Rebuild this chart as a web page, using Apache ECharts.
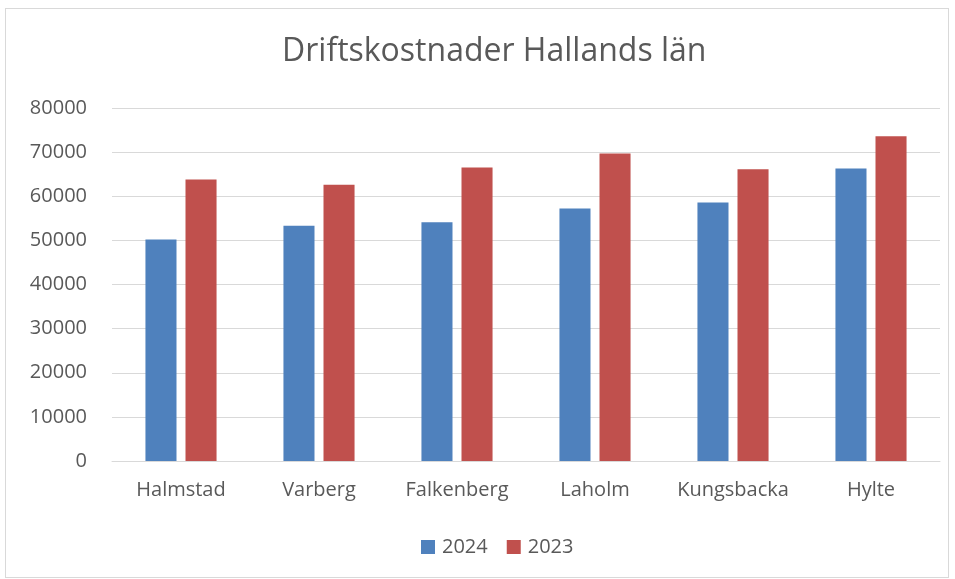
<!DOCTYPE html>
<html><head><meta charset="utf-8">
<script src="https://cdn.jsdelivr.net/npm/echarts@6/dist/echarts.min.js"></script>
<style>
html,body{margin:0;padding:0;background:#fff;}
#frame{position:absolute;left:5px;top:8px;width:944px;height:570px;border:1px solid #d9d9d9;box-sizing:border-box;}
#c{position:absolute;left:0;top:0;width:955px;height:579px;}
</style></head>
<body>
<div id="frame"></div>
<div id="c"></div>
<script>
const categories = ['Halmstad','Varberg','Falkenberg','Laholm','Kungsbacka','Hylte'];
const values2024 = [50200, 53300, 54100, 57200, 58600, 66300];
const values2023 = [63800, 62600, 66500, 69700, 66100, 73600];
const yTicks = [0, 10000, 20000, 30000, 40000, 50000, 60000, 70000, 80000];

const font = '"Open Sans", sans-serif';
const chart = echarts.init(document.getElementById('c'), null, {renderer:'canvas'});
chart.setOption({
  animation:false,
  title:{text:'Driftskostnader Hallands län', left:277, top:31,
    textStyle:{fontFamily:font, fontSize:32, fontWeight:'normal', color:'#595959'}},
  legend:{top:532, left:416, itemWidth:14, itemHeight:14, itemGap:19, icon:'rect',
    textStyle:{fontFamily:font, fontSize:20, color:'#595959', padding:[0,0,0,2]},
    data:['2024','2023']},
  grid:{left:112, right:15, top:108, bottom:118, containLabel:false},
  xAxis:{type:'category', data:categories,
    axisLine:{lineStyle:{color:'#d9d9d9', width:1}}, axisTick:{show:false},
    axisLabel:{fontFamily:font, fontSize:20, color:'#595959', margin:19, interval:0}},
  yAxis:{type:'value', min:yTicks[0], max:yTicks[yTicks.length-1], interval:10000,
    axisLine:{show:false}, axisTick:{show:false},
    splitLine:{lineStyle:{color:'#d9d9d9', width:1}},
    axisLabel:{fontFamily:font, fontSize:20, color:'#595959', margin:25,
      formatter:function(v){return String(v);}}},
  series:[
    {name:'2024', type:'bar', data:values2024, barWidth:'22.5%', barGap:'29%',
      itemStyle:{color:'#4f81bd'}},
    {name:'2023', type:'bar', data:values2023, barWidth:'22.5%', barGap:'29%',
      itemStyle:{color:'#c0504d'}}
  ]
});
</script>
</body></html>
